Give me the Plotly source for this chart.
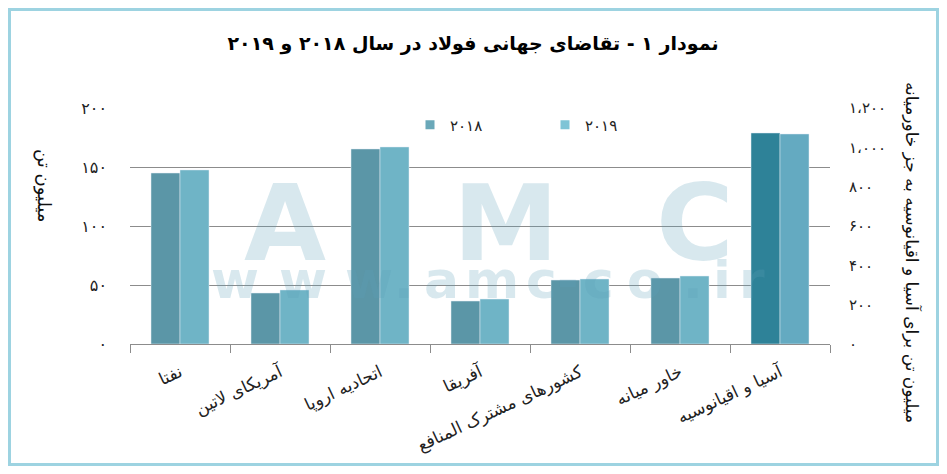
import plotly.graph_objects as go

# categories (regions) and steel demand, million tonnes
categories = ["نفتا", "آمریکای لاتین", "اتحادیه اروپا", "آفریقا",
              "کشورهای مشترک المنافع", "خاور میانه", "آسیا و اقیانوسیه"]
demand_2018 = [144.9, 43.2, 165.3, 36.4, 54.2, 55.9]
demand_2019 = [147.5, 45.8, 167.0, 38.1, 55.1, 57.6]
# Asia & Oceania is read on the right axis
asia_2018 = [1073]
asia_2019 = [1068]

left_ticks = [0, 50, 100, 150, 200]
left_labels = ["۰", "۵۰", "۱۰۰", "۱۵۰", "۲۰۰"]
right_ticks = [0, 200, 400, 600, 800, 1000, 1200]
right_labels = ["۰", "۲۰۰", "۴۰۰", "۶۰۰", "۸۰۰", "۱،۰۰۰", "۱،۲۰۰"]

# the page body has an 8px margin on every side: size the figure so it fits the window
OFF = 8
W, H = 947 - 2 * OFF, 474 - 2 * OFF
X0, X1, Y0, Y1 = 130, 830, 108, 344   # plot area in window pixels
ML, MR, MT, MB = X0 - OFF, OFF + W - X1, Y0 - OFF, OFF + H - Y1
PW, PH = X1 - X0, Y1 - Y0
FONT = "DejaVu Sans"


def px(x):
    return (x - X0) / PW


def py(y):
    return (Y1 - y) / PH


fig = go.Figure()
fig.add_trace(go.Bar(name="۲۰۱۸", x=categories[:6], y=demand_2018, showlegend=False,
                     marker_color="#5b96a7", offset=-0.29, width=0.29))
fig.add_trace(go.Bar(name="۲۰۱۹", x=categories[:6], y=demand_2019, showlegend=False,
                     marker_color="#6fb4c6", offset=0, width=0.29))
fig.add_trace(go.Bar(x=categories[6:], y=asia_2018, yaxis="y2", showlegend=False,
                     marker_color="#2e8298", offset=-0.29, width=0.29))
fig.add_trace(go.Bar(x=categories[6:], y=asia_2019, yaxis="y2", showlegend=False,
                     marker_color="#64aac1", offset=0, width=0.29))
# legend entries with small square swatches
fig.add_trace(go.Scatter(name="۲۰۱۸", x=[None], y=[None], mode="markers",
                         marker=dict(symbol="square", size=9, color="#6aa8b9")))
fig.add_trace(go.Scatter(name="۲۰۱۹", x=[None], y=[None], mode="markers",
                         marker=dict(symbol="square", size=9, color="#7ec4d6")))

wm = "rgba(90,160,185,0.24)"
annotations = []
# watermark: AMC / www.amc-co.ir
for ch, cx in zip("AMC", [285, 505, 695]):
    annotations.append(dict(x=px(cx), y=py(223), text="<b>%s</b>" % ch,
                            font=dict(family=FONT, size=106, color=wm)))
url_chars = list("www.amc-co.ir")
url_x = [235, 303, 369, 404, 441, 492, 541, 568, 598, 645, 693, 722, 752]
for ch, cx in zip(url_chars, url_x):
    annotations.append(dict(x=px(cx), y=py(280), text="<b>%s</b>" % ch,
                            font=dict(family=FONT, size=52, color=wm)))
# axis titles
annotations.append(dict(x=px(44), y=py(185), text="میلیون تن", textangle=90,
                        font=dict(family=FONT, size=18, color="#111")))
annotations.append(dict(x=px(912), y=py(252), text="میلیون تن برای آسیا و اقیانوسیه به جز خاورمیانه",
                        textangle=90, font=dict(family=FONT, size=17, color="#111")))
for a in annotations:
    a.update(xref="paper", yref="paper", showarrow=False, xanchor="center", yanchor="middle")

fig.update_layout(
    width=W, height=H,
    margin=dict(l=ML, r=MR, t=MT, b=MB, autoexpand=False),
    paper_bgcolor="white", plot_bgcolor="white",
    title=dict(text="<b>نمودار ۱ - تقاضای جهانی فولاد در سال ۲۰۱۸ و ۲۰۱۹</b>",
               x=(473 - OFF) / W, xanchor="center", y=1 - (43 - OFF) / H, yanchor="middle",
               font=dict(family=FONT, size=19, color="#000")),
    font=dict(family=FONT, color="#222"),
    showlegend=True,
    legend=dict(orientation="h", x=px(410), xanchor="left", y=py(125), yanchor="middle",
                entrywidth=90, entrywidthmode="pixels",
                font=dict(family=FONT, size=15, color="#222"), bgcolor="rgba(0,0,0,0)"),
    xaxis=dict(type="category", categoryorder="array", categoryarray=categories,
               range=[-0.5, 6.5], showline=True, linecolor="#8c8c8c", linewidth=1,
               ticks="outside", tickson="boundaries", ticklen=8, tickcolor="#8c8c8c",
               tickangle=-25, tickfont=dict(family=FONT, size=17, color="#222"),
               ticklabelstandoff=11, showgrid=False, automargin=False),
    yaxis=dict(range=[0, 200], tickvals=left_ticks, ticktext=left_labels,
               showgrid=True, gridcolor="#8c8c8c", gridwidth=1, zeroline=False,
               showline=False, ticks="", ticklabelstandoff=22, automargin=False,
               tickfont=dict(family=FONT, size=16, color="#222")),
    yaxis2=dict(range=[0, 1200], tickvals=right_ticks, ticktext=right_labels,
                overlaying="y", side="right", anchor="x", showgrid=False,
                zeroline=False, showline=False, ticks="", ticklabelstandoff=18,
                automargin=False, tickfont=dict(family=FONT, size=15, color="#222")),
    annotations=annotations,
    # light blue frame along the edges of the figure
    shapes=[dict(type="rect", xref="paper", yref="paper",
                 x0=px(OFF + 1.5), x1=px(OFF + W - 1.5), y0=py(OFF + H - 1.5), y1=py(OFF + 1.5),
                 line=dict(color="#9dd3e1", width=3), layer="below")],
)

fig.write_html("out.html")
